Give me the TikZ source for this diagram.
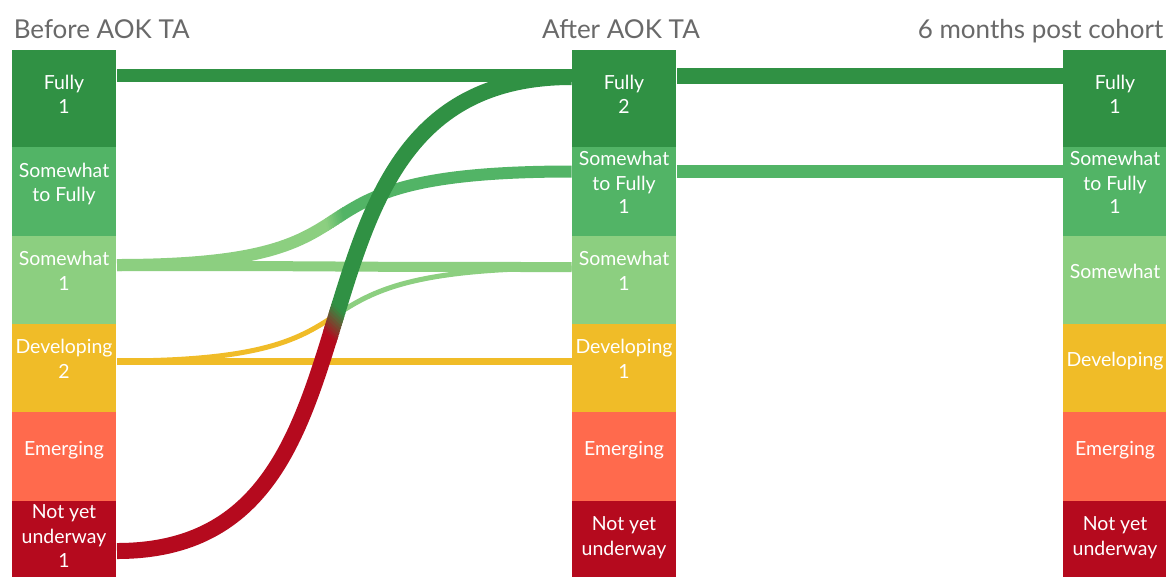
\documentclass[tikz,border=0pt]{standalone}
\usepackage{fontspec}
\setmainfont{Lato}
\usetikzlibrary{calc}
\newlength\pxu
\setlength\pxu{0.75pt}
\definecolor{cFully}{RGB}{48,145,68}
\definecolor{cSwF}{RGB}{82,180,102}
\definecolor{cSome}{RGB}{140,207,128}
\definecolor{cDev}{RGB}{240,188,40}
\definecolor{cEmer}{RGB}{255,106,77}
\definecolor{cNot}{RGB}{181,10,30}
\definecolor{cTitle}{RGB}{105,105,105}
\tikzset{
  box/.style={rectangle, inner sep=0pt, outer sep=0pt, draw=none, minimum width=104\pxu},
  lbl/.style={anchor=base, text=white, inner sep=0pt, font=\fontsize{14.6pt}{17pt}\selectfont},
  ttl/.style={text=cTitle, inner sep=0pt, font=\fontsize{19.5pt}{23pt}\selectfont},
  link/.style={line width=#1\pxu, line cap=butt}
}
\newcommand\lnk[3]{\draw[#1] (#2) .. controls ($(#2)+(300,0)$) and ($(#3)+(-320,0)$) .. (#3);}
\newcommand\gslice[6]{%
  \begin{scope}
    \clip let \p1=(#5), \p2=(#6) in
      ({\x1+(#1)*(\x2-\x1)-3*(\y2-\y1)},{\y1+(#1)*(\y2-\y1)+3*(\x2-\x1)}) --
      ({\x1+(#1)*(\x2-\x1)+3*(\y2-\y1)},{\y1+(#1)*(\y2-\y1)-3*(\x2-\x1)}) --
      ({\x1+(#2)*(\x2-\x1)+3*(\y2-\y1)},{\y1+(#2)*(\y2-\y1)-3*(\x2-\x1)}) --
      ({\x1+(#2)*(\x2-\x1)-3*(\y2-\y1)},{\y1+(#2)*(\y2-\y1)+3*(\x2-\x1)}) -- cycle;
    \lnk{link=#4,color=#3}{#5}{#6}
  \end{scope}}
\newcommand\glink[5]{%
  \gslice{-1}{0.462}{#2}{#1}{#4}{#5}%
  \foreach \k in {1,...,10}{%
    \pgfmathsetmacro\fa{0.46+0.004*(\k-1)}%
    \pgfmathsetmacro\fb{0.462+0.004*\k}%
    \pgfmathtruncatemacro\pc{10*\k-5}%
    \gslice{\fa}{\fb}{#3!\pc!#2}{#1}{#4}{#5}%
  }%
  \gslice{0.50}{2}{#3}{#1}{#4}{#5}%
}
\begin{document}
\begin{tikzpicture}[x=0.75pt,y=-0.75pt]
\useasboundingbox (0,0) rectangle (1166,576);
\clip (0,0) rectangle (1166,576);
\fill[white] (0,0) rectangle (1166,576);

% titles
\node[ttl, anchor=base west] (t1) at (13.5,38) {Before AOK TA};
\node[ttl, anchor=base] (t2) at (621,38) {After AOK TA};
\node[ttl, anchor=base east] (t3) at (1163.5,38) {6 months post cohort};

% column 1 boxes
\node[box, fill=cFully, minimum height=97.5\pxu] (b1) at (64,98.5) {};
\node[box, fill=cSwF,   minimum height=89.5\pxu] (b2) at (64,191.5) {};
\node[box, fill=cSome,  minimum height=88.5\pxu] (b3) at (64,280) {};
\node[box, fill=cDev,   minimum height=89\pxu]   (b4) at (64,368.25) {};
\node[box, fill=cEmer,  minimum height=89\pxu]   (b5) at (64,456.75) {};
\node[box, fill=cNot,   minimum height=89.5\pxu] (b6) at (64,545.5) {};
% column 2 boxes
\node[box, fill=cFully, minimum height=97.5\pxu] (c1) at (624,98.5) {};
\node[box, fill=cSwF,   minimum height=89.5\pxu] (c2) at (624,191.5) {};
\node[box, fill=cSome,  minimum height=88.5\pxu] (c3) at (624,280) {};
\node[box, fill=cDev,   minimum height=89\pxu]   (c4) at (624,368.25) {};
\node[box, fill=cEmer,  minimum height=89\pxu]   (c5) at (624,456.75) {};
\node[box, fill=cNot,   minimum height=89.5\pxu] (c6) at (624,545.5) {};
% column 3 boxes
\node[box, fill=cFully, minimum height=97.5\pxu] (d1) at (1115,98.5) {};
\node[box, fill=cSwF,   minimum height=89.5\pxu] (d2) at (1115,191.5) {};
\node[box, fill=cSome,  minimum height=88.5\pxu] (d3) at (1115,280) {};
\node[box, fill=cDev,   minimum height=89\pxu]   (d4) at (1115,368.25) {};
\node[box, fill=cEmer,  minimum height=89\pxu]   (d5) at (1115,456.75) {};
\node[box, fill=cNot,   minimum height=89.5\pxu] (d6) at (1115,545.5) {};

% column 1 labels
\node[lbl] (b1a) at (64,89) {Fully};
\node[lbl] (b1b) at (64,113) {1};
\node[lbl] (b2a) at (64,177) {Somewhat};
\node[lbl] (b2b) at (64,201.5) {to Fully};
\node[lbl] (b3a) at (64,265) {Somewhat};
\node[lbl] (b3b) at (64,290) {1};
\node[lbl] (b4a) at (64,353) {Developing};
\node[lbl] (b4b) at (64,378) {2};
\node[lbl] (b5a) at (64,455) {Emerging};
\node[lbl] (b6a) at (64,518) {Not yet};
\node[lbl] (b6b) at (64,543) {underway};
\node[lbl] (b6c) at (64,567) {1};
% column 2 labels
\node[lbl] (c1a) at (624,89) {Fully};
\node[lbl] (c1b) at (624,113) {2};
\node[lbl] (c2a) at (624,165) {Somewhat};
\node[lbl] (c2b) at (624,190) {to Fully};
\node[lbl] (c2c) at (624,213) {1};
\node[lbl] (c3a) at (624,265) {Somewhat};
\node[lbl] (c3b) at (624,290) {1};
\node[lbl] (c4a) at (624,353) {Developing};
\node[lbl] (c4b) at (624,378) {1};
\node[lbl] (c5a) at (624,455) {Emerging};
\node[lbl] (c6a) at (624,530) {Not yet};
\node[lbl] (c6b) at (624,555) {underway};
% column 3 labels
\node[lbl] (d1a) at (1115,89) {Fully};
\node[lbl] (d1b) at (1115,113) {1};
\node[lbl] (d2a) at (1115,165) {Somewhat};
\node[lbl] (d2b) at (1115,190) {to Fully};
\node[lbl] (d2c) at (1115,213) {1};
\node[lbl] (d3a) at (1115,278) {Somewhat};
\node[lbl] (d4a) at (1115,366) {Developing};
\node[lbl] (d5a) at (1115,455) {Emerging};
\node[lbl] (d6a) at (1115,530) {Not yet};
\node[lbl] (d6b) at (1115,555) {underway};

% link end points
\coordinate (s1) at (117,75);    \coordinate (e1) at (571.5,75);
\coordinate (s2) at (117,551);   \coordinate (e2) at (571.5,77);
\coordinate (s3) at (117,265);   \coordinate (e3) at (571.5,171.5);
\coordinate (s4) at (117,266);   \coordinate (e4) at (571.5,267);
\coordinate (s5) at (117,361);   \coordinate (e5) at (571.5,268);
\coordinate (s6) at (117,361.5); \coordinate (e6) at (571.5,361.5);
\coordinate (s7) at (677,76);    \coordinate (e7) at (1062.5,76);
\coordinate (s8) at (677,171);   \coordinate (e8) at (1062.5,171);

% links
\lnk{link=13,cFully}{s1}{e1}
\lnk{link=10,cSome}{s4}{e4}
\lnk{link=7,cDev}{s6}{e6}
\glink{12}{cSome}{cSwF}{s3}{e3}
\glink{5}{cDev}{cSome}{s5}{e5}
\lnk{link=16,cFully}{s7}{e7}
\lnk{link=13,cSwF}{s8}{e8}
\glink{16}{cNot}{cFully}{s2}{e2}
\end{tikzpicture}
\end{document}
